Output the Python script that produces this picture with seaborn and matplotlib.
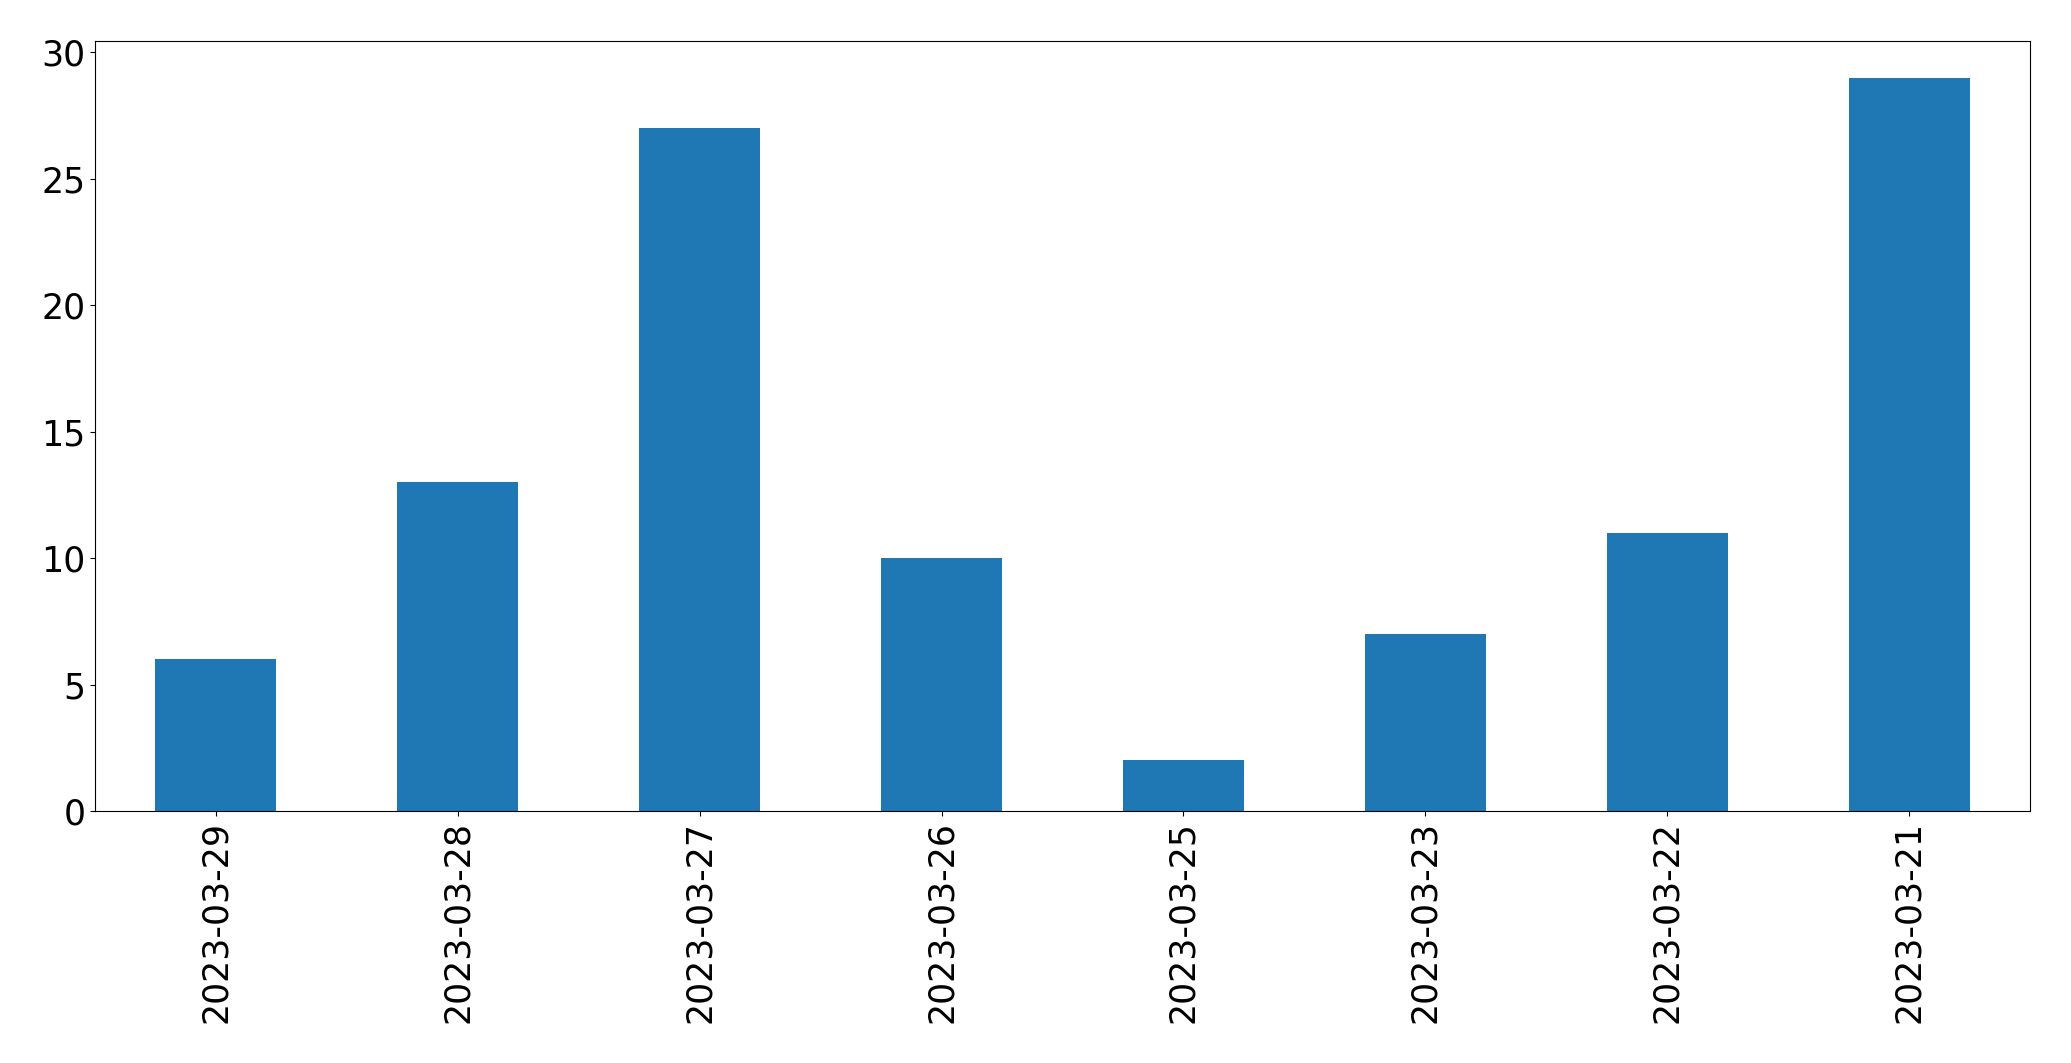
import matplotlib
matplotlib.use("Agg")
import matplotlib.pyplot as plt
import seaborn as sns
import pandas as pd

# Values
dates = ["2023-03-29", "2023-03-28", "2023-03-27", "2023-03-26",
         "2023-03-25", "2023-03-23", "2023-03-22", "2023-03-21"]
counts = [6, 13, 27, 10, 2, 7, 11, 29]

df = pd.DataFrame({"date": dates, "count": counts})

fig = plt.figure(figsize=(20.71, 10.63), dpi=100)
ax = fig.add_axes([95 / 2071, 1 - 811 / 1063, (2030 - 95) / 2071, (811 - 41) / 1063])

sns.barplot(data=df, x="date", y="count", order=dates, color="#1f77b4",
            saturation=1, width=0.5, ax=ax)

ax.set_xlim(-0.5, len(dates) - 0.5)
ax.set_ylim(0, 30.45)
ax.set_xlabel("")
ax.set_ylabel("")
ax.tick_params(axis="both", labelsize=25)
ax.tick_params(axis="x", labelrotation=90)

fig.savefig("out.png", dpi=100)
